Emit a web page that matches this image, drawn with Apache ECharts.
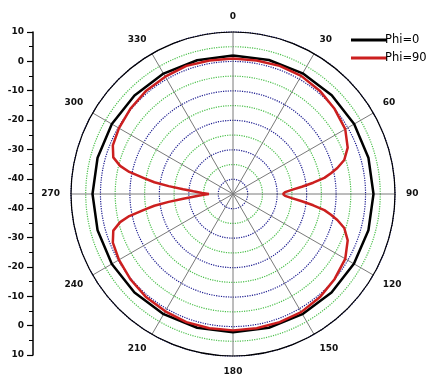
<!DOCTYPE html>
<html>
<head>
<meta charset="utf-8">
<script src="https://cdn.jsdelivr.net/npm/echarts@6/dist/echarts.min.js"></script>
<style>html,body{margin:0;padding:0;background:#fff}#c{width:438px;height:381px}</style>
</head>
<body>
<div id="c"></div>
<script>
// Data (dB vs angle in degrees, clockwise from top)
const seriesNames = ['Phi=0', 'Phi=90'];
const angleLabels = ['0','30','60','90','120','150','180','210','240','270','300','330'];
const phi0Angles = [0,15,30,45,60,75,90,105,120,135,150,165,180,195,210,225,240,255,270,285,300,315,330,345,360];
const phi0Db =     [2.0,2.1,2.3,2.4,2.5,2.6,2.7,2.6,2.4,2.3,2.1,2.0,1.9,2.0,2.1,2.3,2.5,2.6,2.7,2.6,2.5,2.3,2.2,2.0,2.0];
const phi90Angles = [0,10,20,30,40,50,60,68,73,76,78,80,82,84,86,88,90,92,94,96,98,100,102,104,107,112,120,130,140,150,160,170,180,
  190,200,210,220,230,240,248,253,256,258,260,261.5,263,264.5,266,268,270,272,274,275.5,277,278.5,280,282,284,287,292,300,310,320,330,340,350,360];
const phi90Db = [1.0,1.0,1.3,1.3,0.8,0.0,-1.0,-3.0,-5.5,-8.5,-11.0,-13.5,-17.5,-21.5,-25.0,-27.3,-28.0,-27.3,-25.0,-21.5,-17.5,-13.5,-11.0,-8.5,-5.5,-3.0,-1.0,0.0,0.8,1.3,1.3,1.3,1.3,
  1.3,1.3,1.0,0.8,0.3,-0.3,-1.0,-2.5,-5.5,-9.0,-14.5,-18.0,-23.0,-28.0,-31.5,-34.5,-36.8,-34.5,-31.5,-28.0,-23.0,-18.0,-14.5,-9.0,-5.5,-2.5,-1.0,-0.3,0.3,0.8,1.0,1.3,1.0,1.0];
const leftTicks = [10,0,-10,-20,-30,-40,-40,-30,-20,-10,0,10];

const chart = echarts.init(document.getElementById('c'), null, {renderer:'canvas'});
const toPairs = (a, d) => a.map((ang, i) => [d[i], ang]);
const font = 'DejaVu Sans';
chart.setOption({
  backgroundColor: '#fff',
  animation: false,
  legend: {
    orient: 'vertical', left: 346, top: 29, itemGap: 6,
    itemWidth: 36, itemHeight: 3, icon: 'rect',
    textStyle: {fontFamily: font, fontSize: 11.5, color: '#000', padding: [0,0,0,-7]},
    data: seriesNames
  },
  grid: {left: 33, top: 32, bottom: 26, width: 1, containLabel: false},
  xAxis: {type: 'value', show: false},
  yAxis: {
    type: 'value', min: 0, max: 110, interval: 10, position: 'left',
    axisLine: {show: true, lineStyle: {color: '#000', width: 1.5}},
    axisTick: {show: true, length: 6, lineStyle: {color: '#000', width: 1.2}},
    minorTick: {show: true, splitNumber: 2, length: 4, lineStyle: {color: '#000', width: 1}},
    splitLine: {show: false},
    axisLabel: {fontFamily: font, fontSize: 9, fontWeight: 'bold', color: '#111', margin: 9,
      formatter: v => String(leftTicks[Math.round(v / 10)])}
  },
  polar: {center: [233, 194], radius: 162},
  angleAxis: {
    type: 'value', min: 0, max: 360, interval: 30, startAngle: 90, clockwise: true,
    axisLine: {show: true, lineStyle: {color: '#000', width: 1.2}},
    axisTick: {show: false},
    splitLine: {show: true, lineStyle: {color: '#7a7a7a', width: 1}},
    axisLabel: {fontFamily: font, fontSize: 9, fontWeight: 'bold', color: '#111', margin: 11,
      formatter: v => angleLabels[Math.round(v / 30) % 12]}
  },
  radiusAxis: {
    type: 'value', min: -45, max: 10, interval: 5,
    axisLine: {show: false}, axisTick: {show: false}, axisLabel: {show: false},
    splitLine: {show: true, lineStyle: {color: ['#4cc04c', '#1c1c90'], type: 'dotted', width: 1.2}}
  },
  series: [
    {name: seriesNames[0], type: 'line', coordinateSystem: 'polar', showSymbol: false, smooth: false,
      lineStyle: {color: '#000', width: 2.5}, itemStyle: {color: '#000'},
      data: toPairs(phi0Angles, phi0Db)},
    {name: seriesNames[1], type: 'line', coordinateSystem: 'polar', showSymbol: false, smooth: false,
      lineStyle: {color: '#cc1f1f', width: 2.5}, itemStyle: {color: '#cc1f1f'},
      data: toPairs(phi90Angles, phi90Db)}
  ]
});
</script>
</body>
</html>
